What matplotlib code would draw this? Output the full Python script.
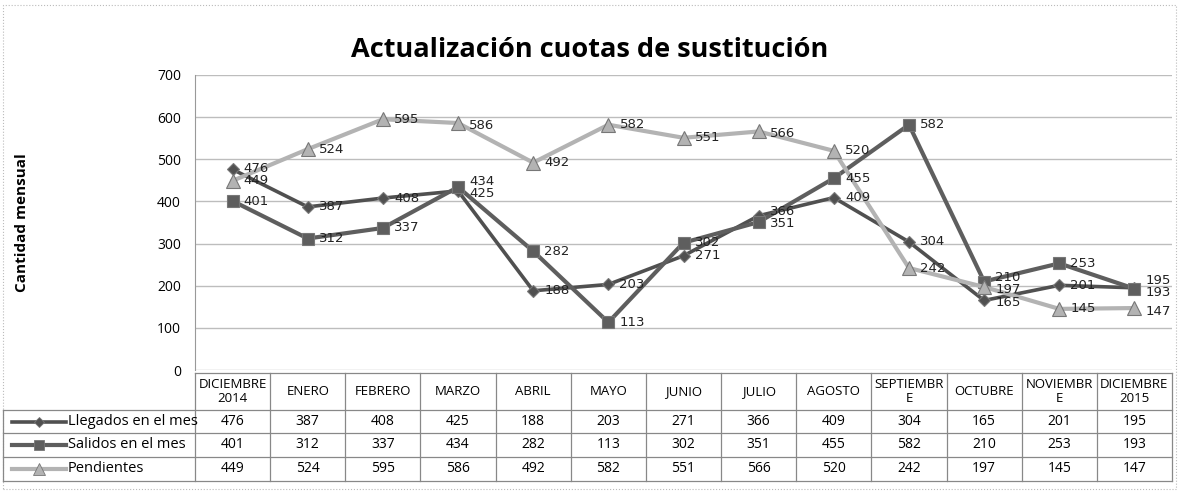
import matplotlib
matplotlib.use("Agg")
import matplotlib.pyplot as plt
from matplotlib.lines import Line2D
from matplotlib.patches import Rectangle

months = ["DICIEMBRE\n2014", "ENERO", "FEBRERO", "MARZO", "ABRIL", "MAYO", "JUNIO",
          "JULIO", "AGOSTO", "SEPTIEMBR\nE", "OCTUBRE", "NOVIEMBR\nE", "DICIEMBRE\n2015"]
llegados = [476, 387, 408, 425, 188, 203, 271, 366, 409, 304, 165, 201, 195]
salidos = [401, 312, 337, 434, 282, 113, 302, 351, 455, 582, 210, 253, 193]
pendientes = [449, 524, 595, 586, 492, 582, 551, 566, 520, 242, 197, 145, 147]
series_names = ["Llegados en el mes", "Salidos en el mes", "Pendientes"]
yticks = [0, 100, 200, 300, 400, 500, 600, 700]

W, H = 1186, 501
plt.rcParams['font.family'] = ['Open Sans', 'DejaVu Sans']
fig = plt.figure(figsize=(W / 100, H / 100), dpi=100)

def fx(px):
    return px / W

def fy(py):
    return 1 - py / H

left, right, top, bottom = 195, 1172, 75, 370
ax = fig.add_axes([fx(left), fy(bottom), fx(right) - fx(left), fy(top) - fy(bottom)])

styles = [
    dict(color="#505050", marker="D", markersize=6, lw=2.6),
    dict(color="#5e5e5e", marker="s", markersize=9, lw=3.0),
    dict(color="#b3b3b3", marker="^", markersize=10, lw=3.0),
]
data = [llegados, salidos, pendientes]
x = list(range(len(months)))

# label offsets (points) so that labels at the same month do not collide
px_per_unit = (bottom - top) / 700.0
min_gap = 12.0  # pixels
offsets = [[0.0] * len(x) for _ in data]
for i in x:
    order = sorted(range(len(data)), key=lambda k: data[k][i])
    pos = [data[k][i] * px_per_unit for k in order]
    new = pos[:]
    for j in range(1, len(new)):
        if new[j] - new[j - 1] < min_gap:
            new[j] = new[j - 1] + min_gap
    shift = sum(n - p for n, p in zip(new, pos)) / len(pos)
    for k, n, p in zip(order, new, pos):
        offsets[k][i] = (n - p - shift) * 0.72

for s, (vals, st) in enumerate(zip(data, styles)):
    ax.plot(x, vals, color=st["color"], lw=st["lw"], marker=st["marker"],
            markersize=st["markersize"], markerfacecolor=st["color"],
            markeredgecolor="#777777", markeredgewidth=0.8, zorder=3)
    for xi, v in zip(x, vals):
        ax.annotate(str(v), (xi, v), xytext=(8, offsets[s][xi]), textcoords="offset points",
                    ha="left", va="center", fontsize=9.5, color="#222222",
                    family="DejaVu Sans", zorder=4)

ax.set_xlim(-0.5, len(months) - 0.5)
ax.set_ylim(0, 700)
ax.set_yticks(yticks)
ax.set_yticklabels([str(t) for t in yticks], fontsize=10)
ax.set_xticks([])
ax.yaxis.grid(True, color="#bdbdbd", lw=1)
ax.set_axisbelow(True)
for s in ["top", "right", "bottom"]:
    ax.spines[s].set_visible(False)
ax.spines["left"].set_color("#999999")
ax.tick_params(axis="y", length=0, pad=10)
ax.set_ylabel("Cantidad mensual", fontsize=11, fontweight="bold")
ax.yaxis.set_label_coords(-0.170, 0.5)

fig.text(fx(590), fy(50), "Actualización cuotas de sustitución", ha="center",
         va="center", fontsize=19.5, fontweight="bold")

# table
col_w = (right - left) / len(months)
row_top, head_bot = 373, 410
row_lines = [410, 433, 457, 481]
lc = "#888888"
def hline(y, x0, x1):
    fig.add_artist(Line2D([fx(x0), fx(x1)], [fy(y), fy(y)], color=lc, lw=0.9))
def vline(xp, y0, y1):
    fig.add_artist(Line2D([fx(xp), fx(xp)], [fy(y0), fy(y1)], color=lc, lw=0.9))

hline(row_top, left, right)
for y in row_lines:
    hline(y, 3, right)
vline(3, row_lines[0], row_lines[-1])
for i in range(len(months) + 1):
    vline(left + i * col_w, row_top, row_lines[-1])

for i, m in enumerate(months):
    cx = left + (i + 0.5) * col_w
    fig.text(fx(cx), fy((row_top + head_bot) / 2), m, ha="center", va="center",
             fontsize=9.5, linespacing=1.2)
    for r, vals in enumerate(data):
        cy = (row_lines[r] + row_lines[r + 1]) / 2
        fig.text(fx(cx), fy(cy), str(vals[i]), ha="center", va="center", fontsize=10)

for r, (name, st) in enumerate(zip(series_names, styles)):
    cy = (row_lines[r] + row_lines[r + 1]) / 2
    fig.add_artist(Line2D([fx(12), fx(66)], [fy(cy), fy(cy)], color=st["color"],
                          lw=st["lw"]))
    fig.add_artist(Line2D([fx(39)], [fy(cy)], color=st["color"], marker=st["marker"],
                          markersize=st["markersize"] * 0.8, markeredgecolor="#777777",
                          markeredgewidth=0.6))
    fig.text(fx(68), fy(cy), name, ha="left", va="center", fontsize=10.5)

# outer dotted border
fig.add_artist(Rectangle((fx(3), fy(489)), fx(1176) - fx(3), fy(5) - fy(489),
                         fill=False, ec="#bbbbbb", lw=0.8, ls=":"))

fig.savefig("out.png", dpi=100, facecolor="white")
